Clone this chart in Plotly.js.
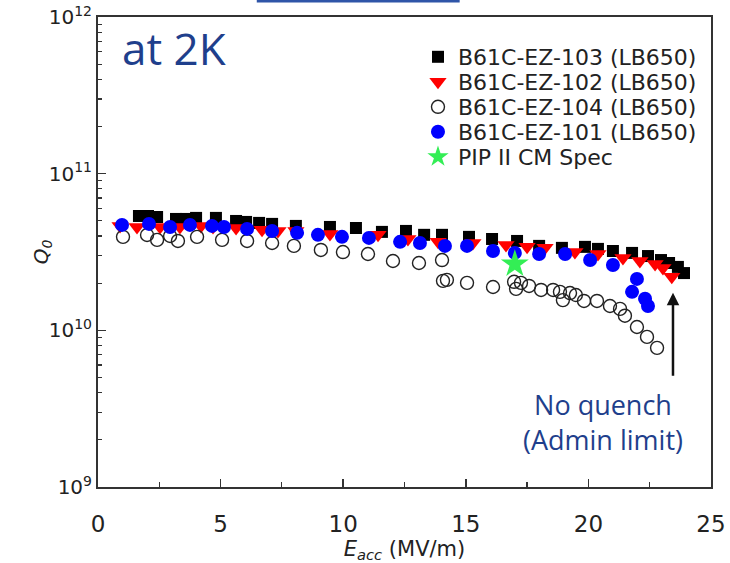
<!DOCTYPE html>
<html>
<head>
<meta charset="utf-8">
<script src="https://cdn.plot.ly/plotly-3.0.1.min.js"></script>
<style>html,body{margin:0;padding:0;background:#fff;}#chart{width:730px;height:563px;}</style>
</head>
<body>
<div id="chart"></div>
<script>
// ---- data ----
const names = ['B61C-EZ-103 (LB650)', 'B61C-EZ-102 (LB650)', 'B61C-EZ-104 (LB650)', 'B61C-EZ-101 (LB650)', 'PIP II CM Spec'];

const e103 = [1.67,2.04,2.41,3.18,3.59,4.0,4.81,5.63,6.04,6.57,7.1,8.07,9.46,10.52,11.58,12.56,13.3,14.03,15.13,16.07,17.09,17.99,18.92,19.86,20.39,21.0,21.78,22.43,22.96,23.29,23.65,23.9];
const q103 = [5.37e10,5.37e10,5.29e10,5.14e10,5.14e10,5.22e10,5.22e10,4.99e10,4.92e10,4.85e10,4.78e10,4.64e10,4.57e10,4.50e10,4.25e10,4.31e10,4.07e10,4.07e10,3.95e10,3.83e10,3.72e10,3.46e10,3.36e10,3.41e10,3.31e10,3.21e10,3.12e10,2.98e10,2.81e10,2.69e10,2.54e10,2.32e10];

const e102 = [0.9,1.59,2.53,3.34,4.2,4.69,5.63,6.69,7.34,8.07,9.46,11.42,12.64,13.87,15.29,16.64,17.5,18.23,19.45,20.39,21.41,22.1,22.72,23.04,23.4];
const q102 = [4.64e10,4.57e10,4.57e10,4.57e10,4.64e10,4.57e10,4.50e10,4.38e10,4.31e10,4.31e10,4.12e10,4.07e10,3.83e10,3.67e10,3.61e10,3.51e10,3.41e10,3.36e10,3.16e10,3.07e10,2.90e10,2.77e10,2.65e10,2.50e10,2.20e10];

const e104 = [1.02,2.0,2.41,2.94,3.26,4.04,5.06,6.08,7.1,7.99,9.09,9.99,11.01,12.03,13.09,14.03,14.07,14.23,15.05,16.11,16.97,17.05,17.25,17.58,18.07,18.56,18.84,18.96,19.25,19.49,19.82,20.35,20.88,21.29,21.49,21.98,22.39,22.8];
const q104 = [3.95e10,4.06e10,3.78e10,4.00e10,3.72e10,3.95e10,3.78e10,3.72e10,3.61e10,3.46e10,3.26e10,3.16e10,3.07e10,2.77e10,2.69e10,2.81e10,2.07e10,2.10e10,2.01e10,1.89e10,2.04e10,1.84e10,2.01e10,1.92e10,1.81e10,1.81e10,1.76e10,1.56e10,1.73e10,1.68e10,1.54e10,1.54e10,1.43e10,1.37e10,1.24e10,1.05e10,9.08e9,7.73e9];

const e101 = [0.98,2.08,2.94,3.75,4.65,5.14,6.08,7.1,8.12,8.97,9.95,11.05,12.32,13.13,14.15,15.05,16.11,17.0,17.99,19.05,20.07,21.0,21.98,21.78,22.31,22.43];
const q101 = [4.71e10,4.78e10,4.57e10,4.71e10,4.64e10,4.57e10,4.44e10,4.31e10,4.19e10,4.07e10,3.95e10,3.89e10,3.67e10,3.61e10,3.46e10,3.46e10,3.21e10,3.12e10,3.07e10,3.07e10,2.81e10,2.61e10,2.13e10,1.76e10,1.59e10,1.43e10];

const eSpec = [17.0];
const qSpec = [2.65e10];

const xTickVals = [0,5,10,15,20,25];
const xTickText = ['0','5','10','15','20','25'];
const xMinorVals = [2.5,7.5,12.5,17.5,22.5];
const yTickVals = [1e9,1e10,1e11,1e12];
const yTickText = ['10<sup>9</sup>','10<sup>10</sup>','10<sup>11</sup>','10<sup>12</sup>'];
const yMinorVals = [];
[1e9,1e10,1e11].forEach(function(d){ for (let k=2;k<=9;k++) yMinorVals.push(k*d); });

// ---- traces ----
const traces = [
  {x:e103, y:q103, name:names[0], type:'scatter', mode:'markers', legend:'legend',
   marker:{symbol:'square', size:12, color:'#000000'}},
  {x:e102, y:q102, name:names[1], type:'scatter', mode:'markers', legend:'legend2',
   marker:{symbol:'triangle-down', size:15, color:'#ff0000'}},
  {x:e104, y:q104, name:names[2], type:'scatter', mode:'markers', legend:'legend3',
   marker:{symbol:'circle-open', size:13, color:'#222222', line:{width:1.4, color:'#222222'}}},
  {x:e101, y:q101, name:names[3], type:'scatter', mode:'markers', legend:'legend4',
   marker:{symbol:'circle', size:14, color:'#0000ff'}},
  {x:eSpec, y:qSpec, name:names[4], type:'scatter', mode:'markers', legend:'legend5',
   marker:{symbol:'star', size:21, color:'#33ee55'}}
];

function leg(yp){
  return {x:0.522, xanchor:'left', y:yp, yanchor:'middle', bgcolor:'rgba(0,0,0,0)', borderwidth:0,
          font:{family:'DejaVu Sans', size:22, color:'#222'}};
}

const axisColor = '#333333';
const layout = {
  width:730, height:563,
  margin:{l:98, r:19, t:17, b:76},
  paper_bgcolor:'#ffffff', plot_bgcolor:'#ffffff',
  font:{family:'DejaVu Sans', color:'#222'},
  showlegend:true,
  legend:leg(0.9149), legend2:leg(0.8617), legend3:leg(0.8085), legend4:leg(0.7553), legend5:leg(0.7021),
  xaxis:{
    range:[0,25], tickmode:'array', tickvals:xTickVals, ticktext:xTickText,
    ticks:'inside', ticklen:8, tickwidth:1.5, tickcolor:axisColor,
    showline:true, mirror:true, linecolor:axisColor, linewidth:2,
    showgrid:false, zeroline:false,
    tickfont:{family:'DejaVu Sans', size:23, color:'#222'},
    ticklabelstandoff:15,
    minor:{tickmode:'array', tickvals:xMinorVals, ticks:'inside', ticklen:5, tickwidth:1.2, tickcolor:axisColor, showgrid:false},
    title:{text:'<i>E<sub>acc</sub></i> (MV/m)', font:{family:'DejaVu Sans', size:21, color:'#222'}, standoff:12}
  },
  yaxis:{
    type:'log', range:[9,12], tickmode:'array', tickvals:yTickVals, ticktext:yTickText,
    ticks:'inside', ticklen:8, tickwidth:1.5, tickcolor:axisColor,
    showline:true, mirror:true, linecolor:axisColor, linewidth:2,
    showgrid:false, zeroline:false,
    tickfont:{family:'DejaVu Sans', size:20, color:'#222'},
    minor:{tickmode:'array', tickvals:yMinorVals, ticks:'inside', ticklen:4, tickwidth:1.2, tickcolor:axisColor, showgrid:false}
  },
  shapes:[
    {type:'line', xref:'paper', yref:'paper', x0:0.259, x1:0.590, y0:1.034, y1:1.034,
     line:{color:'#2f55a8', width:3}}
  ],
  annotations:[
    {text:'<i>Q<sub>0</sub></i>', xref:'paper', yref:'paper', x:-0.091, y:0.5, xanchor:'center', yanchor:'middle',
     textangle:-90, showarrow:false, font:{family:'DejaVu Sans', size:20, color:'#222'}},
    {text:'at 2K', xref:'paper', yref:'paper', x:0.124, y:0.933, xanchor:'center', yanchor:'middle',
     showarrow:false, font:{family:'Open Sans', size:44, color:'#1f3f8c'}},
    {text:'No quench<br>(Admin limit)', xref:'paper', yref:'paper', x:0.824, y:0.138, xanchor:'center', yanchor:'middle',
     align:'center', showarrow:false, font:{family:'Open Sans', size:27, color:'#1f3f8c'}},
    {text:'', x:23.45, y:10.24, xref:'x', yref:'y', ax:23.45, ay:9.70, axref:'x', ayref:'y',
     showarrow:true, arrowhead:2, arrowsize:1, arrowwidth:2.5, arrowcolor:'#111111'}
  ]
};

Plotly.newPlot('chart', traces, layout, {displayModeBar:false, staticPlot:true});
</script>
</body>
</html>
